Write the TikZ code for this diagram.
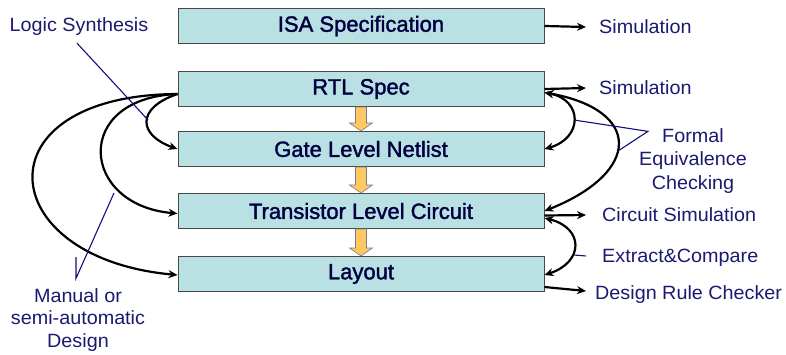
\documentclass[tikz,border=0pt]{standalone}
\usepackage{fontspec}
\setmainfont{Liberation Sans}
\newfontfamily\boxfont[FakeBold=1.6]{Liberation Sans}
\newfontfamily\labfont[FakeStretch=1.03]{Liberation Sans}
\usetikzlibrary{arrows.meta,calc}
\definecolor{boxfill}{HTML}{B9E0E2}
\definecolor{boxline}{HTML}{484848}
\definecolor{boxtext}{HTML}{000040}
\definecolor{labtext}{HTML}{1A1A70}
\definecolor{pointer}{HTML}{10107A}
\definecolor{orangefill}{HTML}{FFC862}
\definecolor{orangeline}{HTML}{7A7A8A}
\tikzset{
  stagebox/.style={draw=boxline, line width=1pt, fill=boxfill, minimum width=366pt, minimum height=35pt, anchor=north, inner sep=0pt, text=boxtext, font=\boxfont\fontsize{22}{24}\selectfont},
  lab/.style={text=labtext, font=\labfont\fontsize{19.2}{24}\selectfont, inner sep=0pt, align=center},
  conn/.style={draw=black, line width=2.2pt, -{Stealth[length=9pt,width=8pt]}},
  bconn/.style={draw=black, line width=2.2pt, {Stealth[length=9pt,width=8pt]}-{Stealth[length=9pt,width=8pt]}},
  ptr/.style={draw=pointer, line width=1.1pt},
  blockarr/.style={fill=orangefill, draw=orangeline, line width=0.6pt, line join=miter}
}
\newcommand\blockarrow[2]{%
  \draw[blockarr] ($(#1.south)+(-5.5,0)$) -- ($(#2.north)+(-5.5,-8)$) -- ($(#2.north)+(-11.5,-8)$) -- (#2.north) -- ($(#2.north)+(11.5,-8)$) -- ($(#2.north)+(5.5,-8)$) -- ($(#1.south)+(5.5,0)$) -- cycle;}
\begin{document}
\begin{tikzpicture}[x=1pt,y=-1pt]
\useasboundingbox (0,0) rectangle (786,354);
% stage boxes
\node[stagebox] (isa) at (361,8) {ISA Specification};
\node[stagebox] (rtl) at (361,71) {RTL Spec};
\node[stagebox] (gate) at (361,131) {Gate Level Netlist};
\node[stagebox] (tr) at (361,193) {Transistor Level Circuit};
\node[stagebox] (lay) at (361,256) {Layout};
% block arrows
\blockarrow{rtl}{gate}
\blockarrow{gate}{tr}
\blockarrow{tr}{lay}
% right labels
\node[lab, anchor=west] (sim1) at (599,27) {Simulation};
\node[lab, anchor=west] (sim2) at (599,88) {Simulation};
\node[lab] (fec) at (693,161) {Formal\\[-0.5pt]Equivalence\\[-0.5pt]Checking};
\node[lab, anchor=west] (csim) at (602,215) {Circuit Simulation};
\node[lab, anchor=west] (exc) at (602,258) {Extract\&Compare};
\node[lab, anchor=west] (drc) at (595,295) {Design Rule Checker};
% left labels
\node[lab] (ls) at (79,27) {Logic Synthesis};
\node[lab] (man) at (78,320) {Manual or\\[-1.5pt]semi-automatic\\[-1.5pt]Design};
% right connectors
\draw[conn] (isa.east) -- ($(sim1.west)+(-13,0)$);
\draw[conn] (rtl.east) -- ($(sim2.west)+(-13,0)$);
\draw[conn] ([yshift=-4.5pt]tr.east) -- ($(csim.west)+(-16,0)$);
\draw[conn] ([yshift=-13pt]lay.east) -- ($(drc.west)+(-9,-4)$);
\draw[bconn] ([yshift=-3.5pt]rtl.east) .. controls (583,100) and (583,138) .. ([yshift=0pt]gate.east);
\draw[bconn] ([yshift=-3.5pt]rtl.east) .. controls (642,110) and (642,172) .. ([yshift=0pt]tr.east);
\draw[bconn] ([yshift=-7pt]tr.east) .. controls (584,228) and (584,262) .. ([yshift=-1pt]lay.east);
% left connectors
\draw[conn] ([yshift=-5pt]rtl.west) .. controls (136,108) and (138,135) .. ([yshift=0pt]gate.west);
\draw[conn] ([yshift=-5pt]rtl.west) .. controls (72,98) and (80,205) .. ([yshift=-2.5pt]tr.west);
\draw[conn] ([yshift=-5pt]rtl.west) .. controls (-22,95) and (-8,258) .. ([yshift=-1pt]lay.west);
% pointer lines
\coordinate (ls1) at (148,120);
\draw[ptr] ($(ls.south)+(-2,7)$) -- (ls1);
\coordinate (fa) at (574,120);
\coordinate (fb) at (618,151);
\draw[ptr] (fa) -- ($(fec.north west)+(9,3)$) -- (fb);
\coordinate (ma) at (114,193);
\coordinate (mb) at (76,257);
\draw[ptr] (ma) -- ($(man.north)+(-2,-10)$) -- (mb);
\coordinate (ea) at (574,255);
\draw[ptr] (ea) -- ($(exc.west)+(-16,-2)$);
\end{tikzpicture}
\end{document}
